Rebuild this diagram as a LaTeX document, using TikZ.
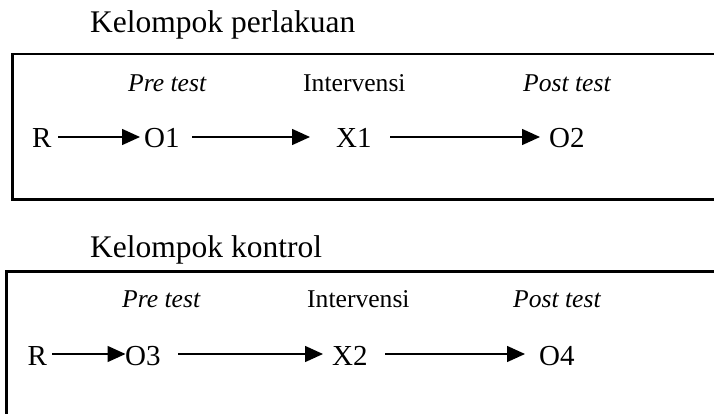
\documentclass[tikz,border=0pt]{standalone}
\usepackage{fontspec}
\setmainfont{Liberation Serif}
\usetikzlibrary{arrows.meta}
\begin{document}
\begin{tikzpicture}[x=1pt,y=-1pt,
  txt/.style={inner sep=0pt,anchor=base west,font=\fontsize{29}{34}\selectfont},
  ttl/.style={inner sep=0pt,anchor=base west,font=\fontsize{31.5}{36}\selectfont},
  lbl/.style={inner sep=0pt,anchor=base west,font=\fontsize{25.6}{30}\selectfont},
  ilbl/.style={lbl,font=\fontsize{25.6}{30}\selectfont\itshape},
  frame/.style={line width=2.6pt},
  arr/.style={line width=1.5pt,-{Triangle[length=18pt,width=16pt]}}]
\useasboundingbox (0,0) rectangle (714,414);
% group 1
\node[ttl] (t1) at (90,33) {Kelompok perlakuan};
\draw[frame] (12.5,54) rectangle (730,199.5);
\node[ilbl] (pre1) at (128,92) {Pre test};
\node[lbl] (int1) at (303,92) {Intervensi};
\node[ilbl] (post1) at (523,92) {Post test};
\node[txt] (r1) at (32,148) {R};
\node[txt] (o1) at (144,148) {O1};
\node[txt] (x1) at (336,148) {X1};
\node[txt] (o2) at (549,148) {O2};
\draw[arr,shorten <=6.5pt,shorten >=4pt] ([yshift=11pt]r1.base east) -- ([yshift=11pt]o1.base west);
\draw[arr,shorten <=12.5pt,shorten >=26pt] ([yshift=11pt]o1.base east) -- ([yshift=11pt]x1.base west);
\draw[arr,shorten <=18.5pt,shorten >=9pt] ([yshift=11pt]x1.base east) -- ([yshift=11pt]o2.base west);
% group 2
\node[ttl] (t2) at (90,257) {Kelompok kontrol};
\draw[frame] (730,271.7) -- (6.7,271.7) -- (6.7,430);
\node[ilbl] (pre2) at (122,307) {Pre test};
\node[lbl] (int2) at (307,307) {Intervensi};
\node[ilbl] (post2) at (513,307) {Post test};
\node[txt] (r2) at (27.5,365) {R};
\node[txt] (o3) at (125,365) {O3};
\node[txt] (x2) at (332,365) {X2};
\node[txt] (o4) at (539,365) {O4};
\draw[arr,shorten <=5pt,shorten >=-0.5pt] ([yshift=11pt]r2.base east) -- ([yshift=11pt]o3.base west);
\draw[arr,shorten <=17.5pt,shorten >=9pt] ([yshift=11pt]o3.base east) -- ([yshift=11pt]x2.base west);
\draw[arr,shorten <=17.5pt,shorten >=14pt] ([yshift=11pt]x2.base east) -- ([yshift=11pt]o4.base west);
\end{tikzpicture}
\end{document}
